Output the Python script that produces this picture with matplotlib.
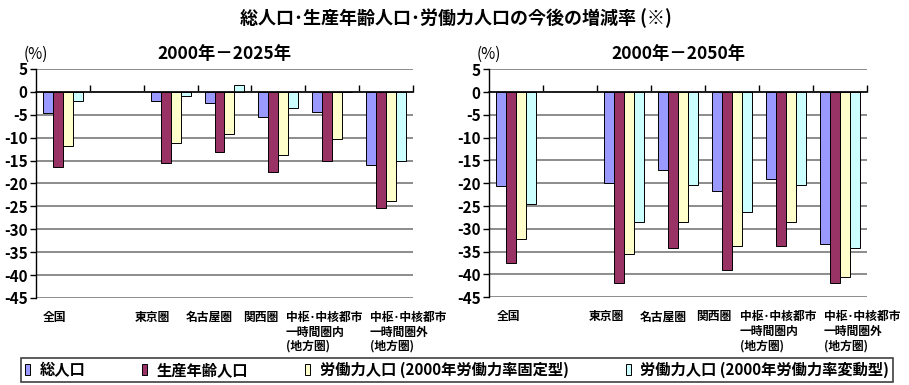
import matplotlib
matplotlib.use("Agg")
import numpy as np
import matplotlib.pyplot as plt
from matplotlib.patches import Patch

plt.rcParams['font.family'] = ['Noto Sans CJK JP', 'DejaVu Sans']

categories = ['全国', '', '東京圏', '名古屋圏', '関西圏',
              '中枢･中核都市\n一時間圏内\n(地方圏)',
              '中枢･中核都市\n一時間圏外\n(地方圏)']
series_names = ['総人口', '生産年齢人口',
                '労働力人口 (2000年労働力率固定型)',
                '労働力人口 (2000年労働力率変動型)']

# 2000年－2025年
total_2025 = [-4.6, np.nan, -1.9, -2.5, -5.4, -4.5, -15.9]
working_2025 = [-16.3, np.nan, -15.6, -13.1, -17.4, -15.0, -25.3]
labor_fix_2025 = [-11.9, np.nan, -11.2, -9.1, -13.8, -10.3, -23.8]
labor_var_2025 = [-1.9, np.nan, -0.9, 1.5, -3.5, 0.0, -15.2]

# 2000年－2050年
total_2050 = [-20.6, np.nan, -20.0, -17.2, -21.6, -19.1, -33.4]
working_2050 = [-37.4, np.nan, -41.9, -34.3, -39.1, -33.8, -41.9]
labor_fix_2050 = [-32.3, np.nan, -35.6, -28.6, -33.8, -28.6, -40.6]
labor_var_2050 = [-24.6, np.nan, -28.6, -20.3, -26.2, -20.3, -34.1]

y_ticks = list(range(5, -50, -5))

colors = ['#9999FF', '#993366', '#FFFFCC', '#CCFFFF']
label_dx = [-8, 0, -18, -15, -18, -8, 22]


def draw_panel(ax, series, subtitle):
    x = np.arange(len(categories))
    w = 0.185
    offs = [-1.5 * w, -0.5 * w, 0.5 * w, 1.5 * w]
    for vals, off, c in zip(series, offs, colors):
        ax.bar(x + off, vals, w, color=c, edgecolor='black', linewidth=0.7, zorder=3)

    ax.set_xlim(-0.5, len(categories) - 0.5)
    ax.set_ylim(-45, 5)
    ax.set_yticks(y_ticks)
    ax.set_yticklabels([str(v) for v in y_ticks])
    ax.yaxis.grid(True, color='#8c8c8c', linewidth=1.4, zorder=0)
    ax.set_axisbelow(True)

    for s in ['top', 'right']:
        ax.spines[s].set_visible(False)
    ax.spines['left'].set_linewidth(1.0)
    ax.spines['bottom'].set_position(('data', 0))
    ax.spines['bottom'].set_linewidth(1.1)
    ax.spines['bottom'].set_zorder(4)

    ax.set_xticks([])
    ax.set_xticks(np.arange(0.5, len(categories)), minor=True)
    ax.tick_params(axis='x', which='minor', direction='in', length=5, width=1.0)
    ax.tick_params(axis='y', direction='out', length=4, width=1.0, pad=2, labelsize=11)
    for tk in ax.yaxis.get_major_ticks():
        tk.label1.set_fontweight('bold')

    for i, (lab, dx) in enumerate(zip(categories, label_dx)):
        if not lab:
            continue
        ax.annotate(lab, xy=(i, 0), xycoords=ax.get_xaxis_transform(),
                    xytext=(dx, -13), textcoords='offset pixels',
                    ha='center', va='top', multialignment='left',
                    fontsize=8.5, fontweight='bold', linespacing=1.15)

    ax.text(0.5, 1.065, subtitle, transform=ax.transAxes, ha='center', va='center',
            fontsize=12.5, fontweight='bold')
    ax.text(0.0, 1.065, '(%)', transform=ax.transAxes, ha='center', va='center',
            fontsize=11)


fig = plt.figure(figsize=(9.09, 3.85), dpi=100)
ax1 = fig.add_axes([0.0396, 0.226, 0.4147, 0.595])
ax2 = fig.add_axes([0.538, 0.228, 0.416, 0.592])

draw_panel(ax1, [total_2025, working_2025, labor_fix_2025, labor_var_2025], '2000年－2025年')
draw_panel(ax2, [total_2050, working_2050, labor_fix_2050, labor_var_2050], '2000年－2050年')

fig.text(0.502, 0.952, '総人口･生産年齢人口･労働力人口の今後の増減率 (※)',
         ha='center', va='center', fontsize=13, fontweight='bold')

handles = [Patch(facecolor=c, edgecolor='black', linewidth=0.7) for c in colors]
leg = fig.legend(handles, series_names, loc='lower left', ncol=4, mode='expand',
                 bbox_to_anchor=(0.0231, 0.008, 0.959, 0.065), borderaxespad=0,
                 fancybox=False, edgecolor='#404040', framealpha=1,
                 handlelength=0.35, handleheight=0.75, handletextpad=0.6,
                 borderpad=0.25, prop={'size': 11, 'weight': 'bold'})
leg.get_frame().set_linewidth(1.2)

fig.savefig('out.png', dpi=100)
